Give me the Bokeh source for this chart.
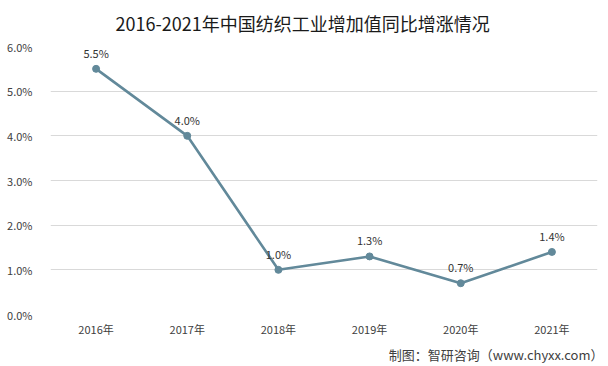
from bokeh.plotting import figure
from bokeh.models import ColumnDataSource, FixedTicker, Title, Range1d
from bokeh.embed import file_html
from bokeh.resources import INLINE

years = ["2016年", "2017年", "2018年", "2019年", "2020年", "2021年"]
growth = [5.5, 4.0, 1.0, 1.3, 0.7, 1.4]
labels = ["5.5%", "4.0%", "1.0%", "1.3%", "0.7%", "1.4%"]
y_ticks = [0, 1, 2, 3, 4, 5, 6]

FONT = "Noto Sans CJK SC"
LINE = "#62899A"

src = ColumnDataSource(dict(x=years, y=growth, lab=labels))

p = figure(width=608, height=366, x_range=years, y_range=Range1d(0, 6),
           output_backend="svg", toolbar_location=None,
           min_border_left=50, min_border_right=11, min_border_top=46, min_border_bottom=50)

p.line("x", "y", source=src, color=LINE, line_width=2.6)
p.scatter("x", "y", source=src, size=7, color=LINE)
p.text("x", "y", text="lab", source=src, text_align="center", text_baseline="middle",
       y_offset=-16, text_font_size="11px", text_color="#333333",
       text_font={"value": FONT})

p.title.text = "2016-2021年中国纺织工业增加值同比增涨情况"
p.title.align = "left"
p.title.vertical_align = "top"
p.title.text_font = FONT
p.title.text_font_size = "18px"
p.title.text_font_style = "normal"
p.title.text_color = "#1a1a1a"
p.title.standoff = 18
p.title.offset = 65

footer = Title(text="制图：智研咨询（www.chyxx.com）", align="right",
               text_font=FONT, text_font_size="13px", text_font_style="normal",
               text_color="#404040", standoff=6, offset=-6)
p.add_layout(footer, "below")

p.yaxis.ticker = FixedTicker(ticks=y_ticks)
p.yaxis.major_label_overrides = {t: f"{t:.1f}%" for t in y_ticks}
for ax in (p.xaxis, p.yaxis):
    ax.axis_line_color = None
    ax.major_tick_line_color = None
    ax.minor_tick_line_color = None
    ax.major_label_text_font = FONT
    ax.major_label_text_font_size = "11px"
    ax.major_label_text_color = "#404040"
p.yaxis.major_label_standoff = 12
p.xaxis.major_label_standoff = 0

p.xgrid.grid_line_color = None
p.ygrid.grid_line_color = "#D9D9D9"
p.ygrid.grid_line_width = 1
p.outline_line_color = None
p.background_fill_color = "white"
p.border_fill_color = "white"

open("out.html", "w").write(file_html(p, INLINE))
